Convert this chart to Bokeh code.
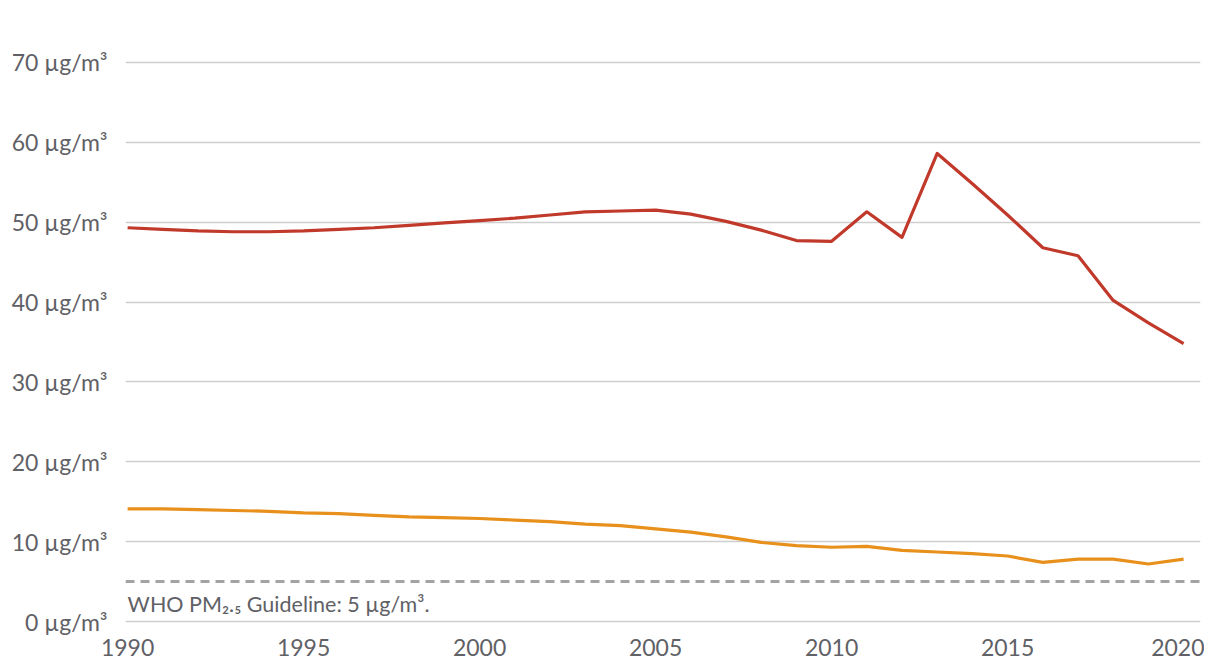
from bokeh.plotting import figure
from bokeh.models import Range1d, FixedTicker, Span
from bokeh.core.properties import value
from bokeh.embed import file_html
from bokeh.resources import INLINE

years = list(range(1990, 2021))
red_values = [49.3, 49.1, 48.9, 48.8, 48.8, 48.9, 49.1, 49.3, 49.6, 49.9,
              50.2, 50.5, 50.9, 51.3, 51.4, 51.5, 51.0, 50.1, 49.0, 47.7,
              47.6, 51.3, 48.1, 58.6, 54.8, 50.9, 46.8, 45.8, 40.2, 37.4, 34.8]
orange_values = [14.1, 14.1, 14.0, 13.9, 13.8, 13.6, 13.5, 13.3, 13.1, 13.0,
                 12.9, 12.7, 12.5, 12.2, 12.0, 11.6, 11.2, 10.6, 9.9, 9.5,
                 9.3, 9.4, 8.9, 8.7, 8.5, 8.2, 7.4, 7.8, 7.8, 7.2, 7.8]
y_ticks = [0, 10, 20, 30, 40, 50, 60, 70]
y_tick_labels = {t: f"{t} µg/m³" for t in y_ticks}
x_ticks = [1990, 1995, 2000, 2005, 2010, 2015, 2020]
guideline = 5
guideline_label = "WHO PM₂.₅ Guideline: 5 µg/m³."

FONT = "Lato"
TEXT = "#5f6166"

p = figure(width=1204, height=664, output_backend="svg", toolbar_location=None,
           x_range=Range1d(1989.94, 2020.48), y_range=Range1d(-0.5, 75.0))
p.min_border_left = 125
p.min_border_right = 4
p.min_border_top = 22
p.min_border_bottom = 39
p.outline_line_color = None
p.background_fill_color = "white"

p.xgrid.grid_line_color = None
p.ygrid.grid_line_color = "#cfcfcf"
p.ygrid.grid_line_width = 1.5
p.ygrid.ticker = FixedTicker(ticks=y_ticks)

p.yaxis.ticker = FixedTicker(ticks=y_ticks)
p.yaxis.major_label_overrides = y_tick_labels
p.xaxis.ticker = FixedTicker(ticks=x_ticks)
for ax in (p.xaxis, p.yaxis):
    ax.axis_line_color = None
    ax.major_tick_line_color = None
    ax.minor_tick_line_color = None
    ax.major_label_text_font = FONT
    ax.major_label_text_font_size = "23px"
    ax.major_label_text_color = TEXT
p.xaxis.major_label_standoff = 7
p.yaxis.major_label_standoff = 12

p.add_layout(Span(location=guideline, dimension="width", line_color="#a3a3a3",
                  line_width=3, line_dash="9 6"))

p.line(years, red_values, line_color="#c0392b", line_width=3.2, line_join="round")
p.line(years, orange_values, line_color="#e8901c", line_width=3.2, line_join="round")

p.text(x=[1990], y=[2.2], text=[guideline_label], text_font=value(FONT),
       text_font_size="21.5px", text_color=TEXT, text_baseline="middle", text_align="left")

open("out.html", "w").write(file_html(p, INLINE))
